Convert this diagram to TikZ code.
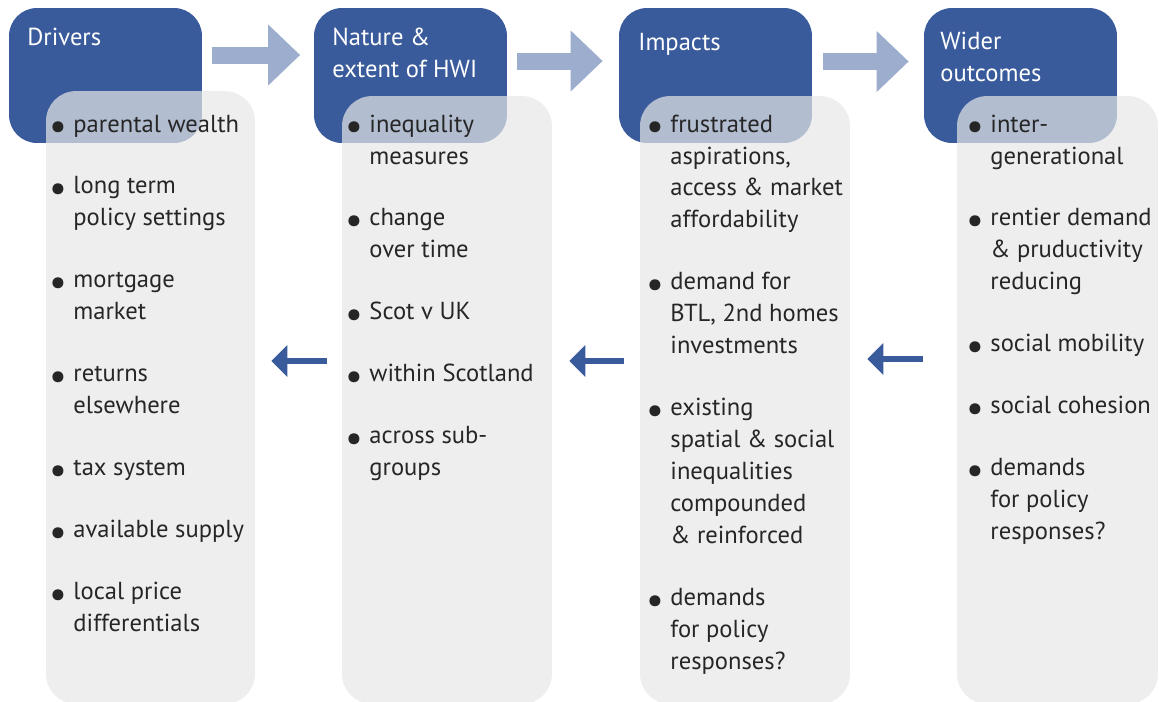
\documentclass[tikz,border=0pt]{standalone}
\usepackage{fontspec}
\setmainfont{PT Sans}
\usetikzlibrary{arrows.meta}

\definecolor{hwiblue}{RGB}{58,91,155}
\definecolor{hwigrey}{RGB}{231,231,231}

\newcommand{\bul}{\makebox[12pt][l]{\hspace{-1.6pt}\raisebox{-4.2pt}{\scalebox{1.6}{\textbullet}}}}
\newcommand{\gap}{17.07pt}
\newcommand{\lines}[1]{\begin{tabular}[t]{@{}l@{}}#1\end{tabular}}
\newcommand{\blist}[1]{\begin{tabular}[t]{@{}l@{}l@{}}#1\end{tabular}}

\begin{document}
\begin{tikzpicture}[x=0.02cm, y=-0.02cm,
    hdbox/.style={fill=hwiblue, rounded corners=0.56cm, minimum width=3.86cm, minimum height=2.7cm, inner sep=0pt},
    listbox/.style={fill=hwigrey, fill opacity=0.7, rounded corners=0.6cm, inner sep=0pt},
    ttl/.style={anchor=base west, inner sep=0pt, text=white, font=\fontsize{14}{18.21}\selectfont},
    items/.style={anchor=base west, inner sep=0pt, text=black!85, font=\fontsize{14}{18.21}\selectfont},
    fwd/.style={draw=hwiblue!50, line width=0.34cm, -{Triangle[length=0.64cm, width=1.18cm]}},
    bck/.style={draw=hwiblue, line width=0.115cm, -{Triangle[length=0.32cm, width=0.62cm]}}]
    \useasboundingbox (0, 0) rectangle (1159, 701);

    \node[hdbox] (drv) at (105.5, 75.5) {};
    \node[hdbox] (nat) at (410.5, 75.5) {};
    \node[hdbox] (imp) at (715.5, 75.5) {};
    \node[hdbox] (wid) at (1020.5, 75.5) {};

    \node[listbox, minimum width=4.18cm, minimum height=12.26cm] (drvlist) at (150.5, 397.5) {};
    \node[listbox, minimum width=4.2cm, minimum height=12.16cm] (natlist) at (447, 400) {};
    \node[listbox, minimum width=4.2cm, minimum height=12.16cm] (implist) at (745, 400) {};
    \node[listbox, minimum width=4.02cm, minimum height=12.16cm] (widlist) at (1057.5, 400) {};

    \node[ttl] (drvttl) at (27, 45) {Drivers};
    \node[ttl] (natttl) at (332, 45) {\lines{Nature \&\\ extent of HWI}};
    \node[ttl] (impttl) at (638, 50) {Impacts};
    \node[ttl] (widttl) at (940, 49) {\lines{Wider\\ outcomes}};

    \node[items] (drvtxt) at (52, 132) {\blist{
        \bul & parental wealth\\[\gap]
        \bul & long term\\ & policy settings\\[\gap]
        \bul & mortgage\\ & market\\[\gap]
        \bul & returns\\ & elsewhere\\[\gap]
        \bul & tax system\\[\gap]
        \bul & available supply\\[\gap]
        \bul & local price\\ & differentials}};
    \node[items] (nattxt) at (348, 132) {\blist{
        \bul & inequality\\ & measures\\[\gap]
        \bul & change\\ & over time\\[\gap]
        \bul & Scot v UK\\[\gap]
        \bul & within Scotland\\[\gap]
        \bul & across sub-\\ & groups}};
    \node[items] (imptxt) at (649, 132) {\blist{
        \bul & frustrated\\ & aspirations,\\ & access \& market\\ & affordability\\[\gap]
        \bul & demand for\\ & BTL, 2nd homes\\ & investments\\[\gap]
        \bul & existing\\ & spatial \& social\\ & inequalities\\ & compounded\\ & \& reinforced\\[\gap]
        \bul & demands\\ & for policy\\ & responses?}};
    \node[items] (widtxt) at (969, 132) {\blist{
        \bul & inter-\\ & generational\\[\gap]
        \bul & rentier demand\\ & \& pruductivity\\ & reducing\\[\gap]
        \bul & social mobility\\[\gap]
        \bul & social cohesion\\[\gap]
        \bul & demands\\ & for policy\\ & responses?}};

    \draw[fwd] ([shift={(10, -20.5)}]drv.east) -- ([shift={(-13.5, -20.5)}]nat.west);
    \draw[fwd] ([shift={(10, -14.5)}]nat.east) -- ([shift={(-16, -14.5)}]imp.west);
    \draw[fwd] ([shift={(11, -14)}]imp.east) -- ([shift={(-15, -14)}]wid.west);

    \draw[bck] ([shift={(-15, -39)}]natlist.west) -- ([shift={(16, -36.5)}]drvlist.east);
    \draw[bck] ([shift={(-16, -39)}]implist.west) -- ([shift={(17, -39)}]natlist.east);
    \draw[bck] ([shift={(-34, -41)}]widlist.west) -- ([shift={(17, -41)}]implist.east);
\end{tikzpicture}
\end{document}
